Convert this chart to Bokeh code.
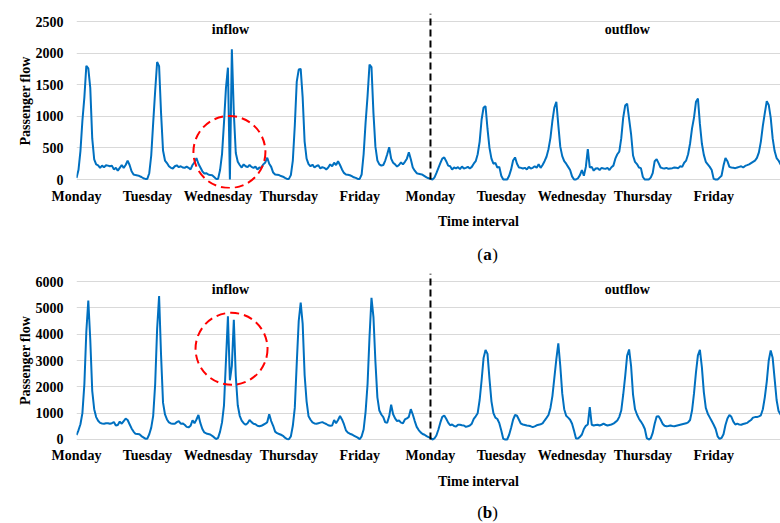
import numpy as np
from bokeh.plotting import figure
from bokeh.layouts import column
from bokeh.models import FixedTicker, Range1d, ColumnDataSource
from bokeh.core.properties import value
from bokeh.embed import file_html
from bokeh.resources import INLINE

# ---------------- data ----------------
SAMPLES_PER_DAY = 36
day_names = ["Monday", "Tuesday", "Wednesday", "Thursday", "Friday"]
tick_labels = day_names + day_names

# panel (a): inflow Mon..Fri, outflow Mon..Fri
a_inflow = [
    25, 150, 450, 930, 1300, 1800, 1760, 1450, 650, 320, 240, 225, 185, 220, 195, 225, 220, 210,
    220, 160, 185, 140, 185, 230, 185, 230, 300, 230, 130, 80, 70, 65, 55, 40, 20, 10,
    10, 100, 380, 900, 1400, 1860, 1795, 1050, 460, 300, 260, 210, 185, 175, 210, 225, 195, 210,
    190, 185, 205, 185, 160, 230, 270, 340, 250, 190, 130, 95, 100, 80, 70, 68, 40, 10,
    10, 150, 400, 900, 1450, 1770, 0, 2060, 1050, 420, 280, 230, 190, 240, 210, 195, 230, 200,
    185, 205, 160, 190, 185, 240, 270, 345, 250, 200, 110, 80, 75, 70, 55, 45, 25, 10,
    10, 70, 300, 850, 1550, 1740, 1750, 1300, 600, 330, 245, 210, 235, 190, 215, 225, 175, 195,
    185, 160, 190, 240, 210, 265, 230, 290, 230, 160, 105, 80, 75, 68, 53, 35, 26, 10,
    10, 80, 400, 900, 1320, 1820, 1780, 1050, 520, 300, 240, 220, 230, 300, 400, 510, 330, 265,
    240, 205, 230, 270, 240, 280, 330, 430, 320, 190, 140, 100, 90, 85, 75, 55, 35, 20,
]
a_outflow = [
    10, 0, 30, 100, 180, 260, 330, 350, 290, 220, 210, 160, 190, 175, 195, 165, 206, 175,
    185, 200, 175, 200, 250, 290, 400, 600, 950, 1140, 1160, 800, 500, 330, 250, 265, 190, 200,
    60, 0, 0, 0, 60, 160, 300, 350, 250, 190, 185, 175, 185, 160, 200, 175, 185, 210,
    185, 240, 185, 230, 290, 360, 480, 660, 930, 1140, 1230, 860, 520, 370, 290, 250, 200, 150,
    50, 0, 0, 20, 70, 150, 60, 200, 480, 190, 200, 140, 175, 180, 150, 185, 175, 170,
    185, 150, 195, 220, 330, 400, 440, 650, 980, 1170, 1200, 960, 720, 380, 280, 245, 190, 180,
    40, 0, 0, 0, 30, 100, 290, 320, 260, 190, 180, 175, 185, 170, 175, 180, 190, 185,
    180, 210, 200, 265, 300, 400, 570, 810, 980, 1230, 1280, 880, 570, 390, 280, 240, 200, 150,
    10, 0, 0, 30, 60, 220, 340, 290, 200, 190, 185, 180, 190, 200, 210, 190, 215, 227,
    240, 260, 280, 300, 343, 430, 600, 850, 1050, 1240, 1180, 980, 650, 450, 340, 300, 240, 200,
]

# panel (b)
b_inflow = [
    170, 350, 580, 1000, 2100, 4100, 5280, 3800, 1850, 1150, 850, 710, 630, 610, 600, 620, 620, 600,
    620, 660, 530, 550, 680, 600, 700, 790, 740, 580, 420, 300, 215, 210, 200, 130, 80, 30,
    30, 200, 450, 900, 2100, 4200, 5450, 3200, 1400, 950, 760, 650, 610, 600, 600, 660, 700, 600,
    610, 560, 480, 460, 520, 730, 620, 760, 930, 620, 400, 270, 230, 210, 190, 140, 80, 15,
    60, 300, 650, 1300, 3000, 4680, 2250, 2800, 4550, 2400, 1300, 900, 720, 620, 560, 620, 740, 660,
    600, 580, 520, 500, 520, 560, 600, 660, 960, 700, 520, 300, 240, 210, 180, 140, 70, 20,
    10, 120, 520, 1200, 2900, 4500, 5200, 4400, 2450, 1450, 880, 750, 650, 610, 600, 620, 640, 660,
    620, 590, 540, 520, 530, 740, 620, 740, 890, 760, 580, 350, 260, 220, 190, 150, 110, 70,
    10, 120, 380, 1050, 2100, 3900, 5380, 4650, 2950, 1600, 1100, 950, 850, 650, 640, 880, 1320, 960,
    800, 700, 720, 640, 620, 760, 800, 860, 1150, 950, 700, 480, 360, 270, 210, 180, 130, 90,
]
b_outflow = [
    60, 0, 40, 150, 370, 640, 860, 910, 790, 640, 540, 570, 510, 490, 560, 560, 540, 530,
    480, 500, 530, 600, 780, 880, 1000, 1500, 2250, 3100, 3400, 3250, 2300, 1450, 1000, 830, 780, 620,
    340, 25, 0, 0, 180, 450, 750, 930, 900, 750, 600, 570, 550, 530, 520, 500, 470, 500,
    540, 560, 580, 610, 720, 820, 930, 1200, 1650, 2350, 3050, 3650, 2800, 1750, 1150, 900, 830, 750,
    600, 330, 40, 40, 100, 190, 400, 520, 570, 1230, 560, 530, 550, 560, 530, 560, 600, 560,
    530, 550, 570, 600, 660, 720, 860, 1100, 1700, 2400, 3190, 3420, 2800, 1700, 1150, 950, 790, 680,
    560, 400, 50, 0, 40, 250, 600, 875, 880, 760, 600, 520, 500, 510, 530, 510, 500, 520,
    540, 560, 580, 600, 615, 650, 740, 1100, 1750, 2550, 3200, 3400, 2750, 1800, 1200, 980, 840, 700,
    560, 400, 120, 20, 60, 200, 550, 800, 930, 860, 680, 570, 600, 570, 560, 590, 610, 630,
    690, 740, 830, 850, 850, 880, 920, 1150, 1600, 2200, 3000, 3380, 3100, 2300, 1500, 1080, 950, 850,
]

a_yticks = [0, 500, 1000, 1500, 2000, 2500]
b_yticks = [0, 1000, 2000, 3000, 4000, 5000, 6000]

# highlighted anomaly (day position, value) and section labels
a_highlight = (2.16, 435)
b_highlight = (2.19, 3444)
section_names = ["inflow", "outflow"]
section_days = [2.175, 7.78]
x_title = "Time interval"

# ---------------- styling ----------------
FONT = "Liberation Serif"
BLUE = "#0070C0"
GRID = "#D9D9D9"
PAGE_W = 780


def make_panel(inflow, outflow, yticks, y_start, y_end, border_top, frame_h,
               highlight, label_val):
    flow = list(inflow) + list(outflow)
    x = np.arange(len(flow)) / SAMPLES_PER_DAY
    n_days = len(flow) // SAMPLES_PER_DAY
    split = len(inflow) / SAMPLES_PER_DAY

    p = figure(frame_width=704, frame_height=frame_h,
               x_range=Range1d(0, 9.944), y_range=Range1d(y_start, y_end),
               min_border_left=76, min_border_right=0,
               min_border_top=border_top, min_border_bottom=20,
               output_backend="svg", toolbar_location=None)
    p.outline_line_color = None
    p.background_fill_color = "white"
    p.border_fill_color = "white"

    src = ColumnDataSource(dict(x=x, y=flow))
    p.line("x", "y", source=src, line_color=BLUE, line_width=2)

    # inflow / outflow separator
    p.line([split, split], [0, y_end], line_color="black", line_width=2, line_dash="7 4")

    # highlight circle
    p.scatter([highlight[0]], [highlight[1]], marker="circle", size=72,
              fill_color=None, line_color="#FF0000", line_width=2, line_dash="9 5")

    p.text(x=section_days, y=[label_val] * 2, text=section_names,
           text_font=value(FONT), text_font_style="bold", text_font_size="14px",
           text_align="center", text_baseline="middle", text_color="black")

    p.xgrid.grid_line_color = None
    p.ygrid.ticker = FixedTicker(ticks=yticks)
    p.ygrid.grid_line_color = GRID
    p.ygrid.grid_line_width = 1

    xa = p.xaxis[0]
    xa.ticker = FixedTicker(ticks=list(range(n_days)))
    xa.major_label_overrides = {i: tick_labels[i] for i in range(n_days)}
    xa.major_label_standoff = 0
    ya = p.yaxis[0]
    ya.ticker = FixedTicker(ticks=yticks)
    ya.axis_label = "Passenger flow"
    ya.axis_label_standoff = 0
    ya.major_label_standoff = 13
    for ax in (xa, ya):
        ax.axis_line_color = None
        ax.major_tick_line_color = None
        ax.minor_tick_line_color = None
        ax.major_tick_in = 0
        ax.major_tick_out = 0
        ax.major_label_text_font = FONT
        ax.major_label_text_font_style = "bold"
        ax.major_label_text_font_size = "14px"
        ax.major_label_text_color = "black"
        ax.axis_label_text_font = FONT
        ax.axis_label_text_font_style = "bold"
        ax.axis_label_text_font_size = "14px"
        ax.axis_label_text_color = "black"
    return p


def make_caption(height, letter, title_y, cap_y):
    c = figure(frame_width=PAGE_W, frame_height=height,
               x_range=Range1d(0, PAGE_W), y_range=Range1d(0, height),
               x_axis_type=None, y_axis_type=None, min_border=0,
               output_backend="svg", toolbar_location=None)
    c.outline_line_color = None
    c.grid.visible = False
    c.border_fill_color = "white"
    c.text(x=[402], y=[title_y], text=[x_title], text_font=value(FONT),
           text_font_style="bold", text_font_size="14px", text_align="center",
           text_baseline="middle", text_color="black")
    cx = 411
    c.text(x=[cx - 4.7], y=[cap_y], text=["("], text_font=value(FONT),
           text_font_size="17px", text_align="right", text_baseline="middle",
           text_color="black")
    c.text(x=[cx], y=[cap_y], text=[letter], text_font=value(FONT),
           text_font_style="bold", text_font_size="17px", text_align="center",
           text_baseline="middle", text_color="black")
    c.text(x=[cx + 4.7], y=[cap_y], text=[")"], text_font=value(FONT),
           text_font_size="17px", text_align="left", text_baseline="middle",
           text_color="black")
    return c


pa = make_panel(a_inflow, a_outflow, a_yticks, -142, 2627, 13, 175, a_highlight, 2373)
ca = make_caption(58, "a", 45, 12)
pb = make_panel(b_inflow, b_outflow, b_yticks, -304, 6304, 7, 174, b_highlight, 5696)
cb = make_caption(56, "b", 42, 11)

layout = column(pa, ca, pb, cb)
open("out.html", "w").write(file_html(layout, INLINE))
